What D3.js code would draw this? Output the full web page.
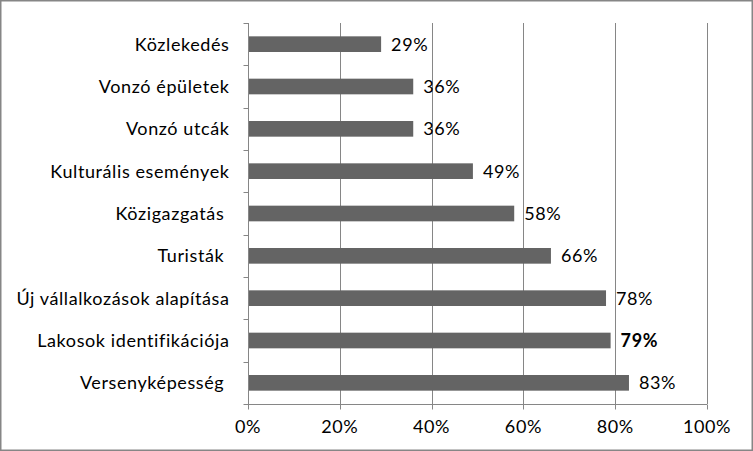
<!DOCTYPE html>
<html>
<head>
<meta charset="utf-8">
<script src="https://cdn.jsdelivr.net/npm/d3@7"></script>
<style>
body{margin:0;background:#fff;}
text{font-family:Lato,"Open Sans",sans-serif;fill:#000;white-space:pre;font-variant-ligatures:none;letter-spacing:0.6px;}
</style>
</head>
<body>
<script>
var categories = ["Közlekedés","Vonzó épületek","Vonzó utcák","Kulturális események","Közigazgatás ","Turisták ","Új vállalkozások alapítása","Lakosok identifikációja","Versenyképesség "];
var values = [0.29,0.36,0.36,0.49,0.58,0.66,0.78,0.79,0.83];
var boldLabels = ["Lakosok identifikációja"];
var xTicks = [0,0.2,0.4,0.6,0.8,1];

var W = 753, H = 451;
var plotL = 248, plotR = 707, plotT = 23, plotB = 404;

var svg = d3.select("body").append("svg").attr("width",W).attr("height",H);

// outer frame
svg.append("rect").attr("x",0.75).attr("y",0.75).attr("width",W-1.5).attr("height",H-1.5)
	.attr("fill","#fff").attr("stroke","#868686").attr("stroke-width",1.5);

var x = d3.scaleLinear().domain([0,1]).range([plotL,plotR]);
var y = d3.scaleBand().domain(categories).range([plotT,plotB]).paddingInner(0.63).paddingOuter(0.315);
var yb = d3.scaleBand().domain(categories).range([plotT,plotB]);

// gridlines
svg.append("g").selectAll("line").data(xTicks.slice(1)).enter().append("line")
	.attr("x1",function(d){return Math.round(x(d))+0.5;})
	.attr("x2",function(d){return Math.round(x(d))+0.5;})
	.attr("y1",plotT).attr("y2",plotB)
	.attr("stroke","#868686").attr("stroke-width",1);

// bars
svg.append("g").selectAll("rect").data(values).enter().append("rect")
	.attr("x",x(0))
	.attr("y",function(d,i){return y(categories[i]);})
	.attr("width",function(d){return x(d)-x(0);})
	.attr("height",y.bandwidth())
	.attr("fill","#646464");

// value labels
svg.append("g").selectAll("text").data(values).enter().append("text")
	.attr("x",function(d){return x(d)+10;})
	.attr("y",function(d,i){return y(categories[i])+y.bandwidth()/2;})
	.attr("dy","0.36em")
	.attr("font-size","18px")
	.attr("font-weight",function(d,i){return boldLabels.indexOf(categories[i])>=0?"bold":"normal";})
	.text(function(d){return Math.round(d*100)+"%";});

// y axis
var yAxis = svg.append("g").attr("transform","translate("+(plotL+0.5)+",0)");
yAxis.append("line").attr("x1",0).attr("x2",0).attr("y1",plotT).attr("y2",plotB).attr("stroke","#868686");
yAxis.selectAll("line.tick").data(categories.concat(["_end"])).enter().append("line")
	.attr("class","tick")
	.attr("x1",-5).attr("x2",0)
	.attr("y1",function(d,i){return Math.round(plotT+i*yb.step())+0.5;})
	.attr("y2",function(d,i){return Math.round(plotT+i*yb.step())+0.5;})
	.attr("stroke","#868686");
yAxis.selectAll("text").data(categories).enter().append("text")
	.attr("x",-19)
	.attr("y",function(d){return yb(d)+yb.bandwidth()/2;})
	.attr("dy","0.36em")
	.attr("text-anchor","end")
	.attr("font-size","18px")
	.text(function(d){return d;});

// x axis
var xAxis = svg.append("g").attr("transform","translate(0,"+(plotB+0.5)+")");
xAxis.append("line").attr("x1",plotL).attr("x2",plotR).attr("stroke","#868686");
xAxis.selectAll("line.tick").data(xTicks).enter().append("line")
	.attr("x1",function(d){return Math.round(x(d))+0.5;})
	.attr("x2",function(d){return Math.round(x(d))+0.5;})
	.attr("y1",0).attr("y2",5).attr("stroke","#868686");
xAxis.selectAll("text").data(xTicks).enter().append("text")
	.attr("x",function(d){return x(d);})
	.attr("y",28)
	.attr("text-anchor","middle")
	.attr("font-size","18px")
	.text(function(d){return Math.round(d*100)+"%";});
</script>
</body>
</html>
